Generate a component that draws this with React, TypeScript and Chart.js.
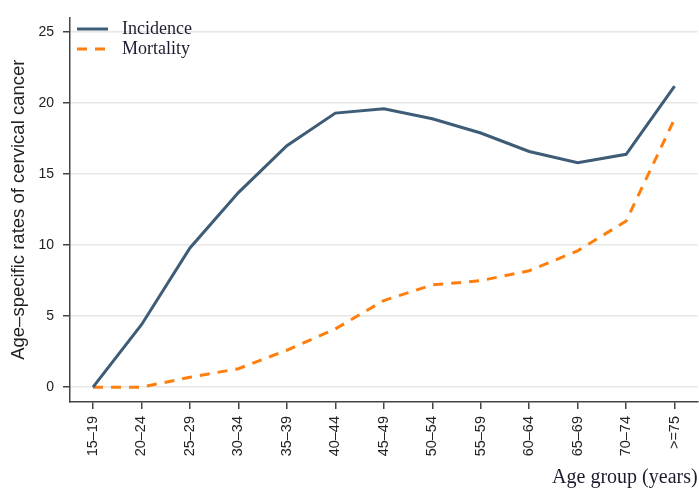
import React, { useEffect, useRef } from "react";
import { Chart, registerables } from "chart.js";

Chart.register(...registerables);

const ageGroups = ["15–19", "20–24", "25–29", "30–34", "35–39", "40–44", "45–49", "50–54", "55–59", "60–64", "65–69", "70–74", ">=75"];
const incidence = [0, 4.4, 9.8, 13.7, 17.0, 19.3, 19.6, 18.9, 17.9, 16.6, 15.8, 16.4, 21.2];
const mortality = [0, 0, 0.7, 1.3, 2.6, 4.1, 6.1, 7.2, 7.5, 8.2, 9.6, 11.7, 18.9];
const yTicks = [0, 5, 10, 15, 20, 25];

const seriesNames = ["Incidence", "Mortality"];
const seriesColors = ["#3e5c76", "#ff7f0e"];

const SERIF = "'Liberation Serif', 'Times New Roman', serif";
const SANS = "'Liberation Sans', Arial, sans-serif";

const legendPlugin = {
  id: "insideLegend",
  afterDraw(chart: any) {
    const ctx = chart.ctx;
    const left = chart.chartArea.left;
    const rows = [29, 49];
    ctx.save();
    chart.data.datasets.forEach((ds: any, i: number) => {
      const y = rows[i];
      ctx.beginPath();
      ctx.strokeStyle = ds.borderColor;
      ctx.lineWidth = 3;
      ctx.setLineDash(ds.borderDash || []);
      ctx.moveTo(left + 7, y);
      ctx.lineTo(left + 38, y);
      ctx.stroke();
      ctx.setLineDash([]);
      ctx.fillStyle = "#1c1c30";
      ctx.font = `18px ${SERIF}`;
      ctx.textBaseline = "middle";
      ctx.textAlign = "left";
      ctx.fillText(ds.label, left + 52, y);
    });
    ctx.restore();
  },
};

export default function App() {
  const ref = useRef<HTMLCanvasElement>(null);
  useEffect(() => {
    if (!ref.current) return;
    const chart = new Chart(ref.current, {
      type: "line",
      data: {
        datasets: [
          {
            label: seriesNames[0],
            data: incidence.map((v, i) => ({ x: i, y: v })),
            borderColor: seriesColors[0],
            backgroundColor: seriesColors[0],
            borderWidth: 3,
            pointRadius: 0,
            tension: 0,
            fill: false,
          },
          {
            label: seriesNames[1],
            data: mortality.map((v, i) => ({ x: i, y: v })),
            borderColor: seriesColors[1],
            backgroundColor: seriesColors[1],
            borderWidth: 3,
            borderDash: [10, 8],
            pointRadius: 0,
            tension: 0,
            fill: false,
          },
        ],
      },
      options: {
        animation: false,
        responsive: false,
        layout: { padding: { top: 13, right: 0, left: 0, bottom: 0 } },
        plugins: { legend: { display: false }, tooltip: { enabled: false } },
        scales: {
          x: {
            type: "linear",
            min: -0.475,
            max: 12.475,
            afterBuildTicks: (axis: any) => {
              axis.ticks = ageGroups.map((_, i) => ({ value: i }));
            },
            afterFit: (axis: any) => {
              axis.height = 88;
            },
            ticks: {
              autoSkip: false,
              minRotation: 90,
              maxRotation: 90,
              padding: 7,
              color: "#222",
              font: { family: SANS, size: 14.5 },
              callback: (v: any) => ageGroups[Math.round(Number(v))] ?? "",
            },
            grid: { drawOnChartArea: false, tickColor: "#444", tickLength: 7, lineWidth: 1.5 },
            border: { color: "#444", width: 1.5 },
            title: {
              display: true,
              text: "Age group (years)",
              align: "end",
              color: "#1c1c30",
              font: { family: SERIF, size: 20 },
              padding: 0,
            },
          },
          y: {
            type: "linear",
            min: -1.045,
            max: 26.04,
            afterBuildTicks: (axis: any) => {
              axis.ticks = yTicks.map((v) => ({ value: v }));
            },
            afterFit: (axis: any) => {
              axis.width = 70;
            },
            ticks: {
              padding: 9,
              color: "#222",
              font: { family: SANS, size: 14 },
            },
            grid: { color: "#e6e6e6", lineWidth: 1.5, tickColor: "#444", tickLength: 7 },
            border: { color: "#444", width: 1.5 },
            title: {
              display: true,
              text: "Age–specific rates of cervical cancer",
              color: "#222",
              font: { family: SANS, size: 18.5 },
              padding: { top: 8, bottom: 0 },
            },
          },
        },
      },
      plugins: [legendPlugin],
    } as any);
    return () => chart.destroy();
  }, []);
  return (
    <div style={{ position: "absolute", left: 0, top: 0, width: 699, height: 490 }}>
      <canvas ref={ref} width={699} height={490} style={{ display: "block" }} />
    </div>
  );
}
